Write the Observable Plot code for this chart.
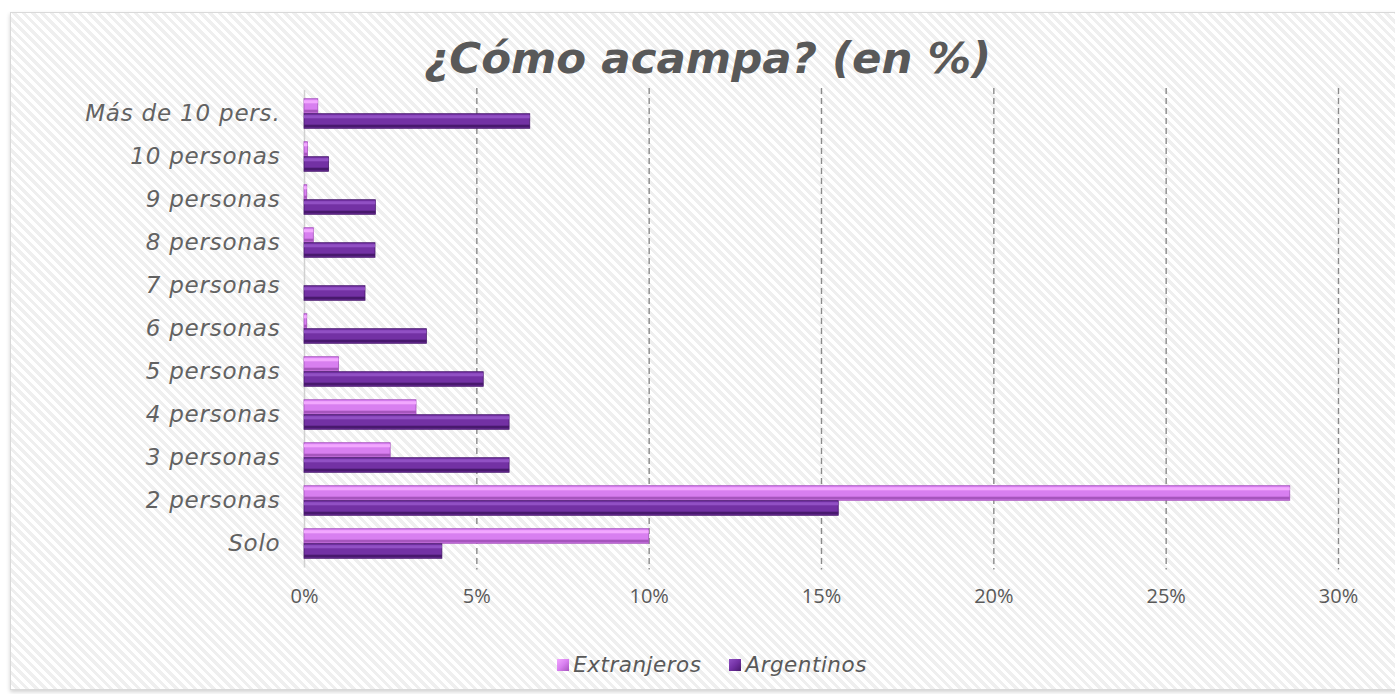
<!DOCTYPE html>
<html>
<head>
<meta charset="utf-8">
<script src="https://cdn.jsdelivr.net/npm/d3@7"></script>
<script src="https://cdn.jsdelivr.net/npm/@observablehq/plot@0.6"></script>
<style>
  html, body { margin: 0; padding: 0; background: #ffffff; width: 1395px; height: 694px; overflow: hidden; }
  #frame {
    position: absolute; left: 10px; top: 12px; width: 1390px; height: 676px;
    border: 1px solid #d9d9d9;
    box-shadow: 0 2px 4px rgba(0,0,0,0.18);
    background: repeating-linear-gradient(45deg, #ffffff 0px, #ffffff 3.4px, #efefef 3.4px, #efefef 6.6px);
  }
  #title {
    position: absolute; left: 0; width: 1415px; top: 30px; text-align: center;
    font-family: "DejaVu Sans", sans-serif; font-weight: 700; font-style: italic;
    font-size: 43.5px; color: #595959; line-height: 56px; margin: 0;
  }
  #chart { position: absolute; left: 0; top: 0; }
  #legend {
    position: absolute; left: 0; width: 1424px; top: 650px; display: flex; justify-content: center; gap: 28px;
    font-family: "DejaVu Sans", sans-serif; font-weight: 300; font-style: italic; font-size: 21.5px; letter-spacing: 0.5px; color: #595959; line-height: 30px;
  }
  .item { display: flex; align-items: center; gap: 4px; }
  .sw { width: 12px; height: 12px; display: inline-block; }
</style>
</head>
<body>
<div id="frame"></div>
<h1 id="title">¿Cómo acampa? (en %)</h1>
<div id="chart"></div>
<div id="legend"></div>
<script>
// Data (percent)
const categories = ["Más de 10 pers.", "10 personas", "9 personas", "8 personas", "7 personas", "6 personas", "5 personas", "4 personas", "3 personas", "2 personas", "Solo"];
const extranjeros = [0.4, 0.1, 0.08, 0.27, 0, 0.08, 1.0, 3.25, 2.5, 28.6, 10.0];
const argentinos = [6.55, 0.71, 2.07, 2.06, 1.77, 3.55, 5.2, 5.95, 5.95, 15.5, 4.0];
const seriesNames = ["Extranjeros", "Argentinos"];
const seriesColors = ["#d87ff0", "#7331a4"];
const seriesLight = ["#f2a8ff", "#9150c4"];
const seriesDark = ["#a655bd", "#48196d"];
const xTicks = [0, 5, 10, 15, 20, 25, 30];

const rows = [];
categories.forEach((c, i) => {
  rows.push({cat: c, series: seriesNames[0], value: extranjeros[i]});
  rows.push({cat: c, series: seriesNames[1], value: argentinos[i]});
});
const ext = rows.filter(d => d.series === "Extranjeros");
const arg = rows.filter(d => d.series === "Argentinos");

const font = '"Open Sans", sans-serif';
const labelFont = '"DejaVu Sans", sans-serif';
const W = 1395, H = 694;
// bar layout within band (band ~43.4px): bars 15px each, centered
const outer = 6.7, bar = 15;

function bevel(data, top, i) {
  const bottom = 43.4 - top - bar;
  return [
    Plot.barX(data, {x: "value", y: "cat", insetTop: top, insetBottom: bottom, fill: seriesColors[i], stroke: seriesDark[i], strokeWidth: 0.8}),
    Plot.barX(data, {x: "value", y: "cat", insetTop: top + 1.5, insetBottom: bottom + bar - 5, fill: seriesLight[i]}),
    Plot.barX(data, {x: "value", y: "cat", insetTop: top + bar - 4, insetBottom: bottom + 0.8, fill: seriesDark[i]})
  ];
}

const chart = Plot.plot({
  width: W, height: H,
  marginLeft: 304, marginRight: W - 1338, marginTop: 90, marginBottom: H - 567.5,
  style: {background: "transparent", fontFamily: font, overflow: "visible"},
  x: {domain: [0, 30], ticks: xTicks},
  y: {domain: categories, padding: 0},
  marks: [
    Plot.ruleX(xTicks.filter(d => d > 0), {stroke: "#8a8a8a", strokeDasharray: "6,4", strokeWidth: 1.4, insetTop: -2, insetBottom: -2}),
    Plot.ruleX([0], {stroke: "#d0d0d0", strokeWidth: 1.5}),
    ...bevel(ext, outer, 0),
    ...bevel(arg, outer + bar, 1),
    Plot.axisX({ticks: xTicks, tickSize: 0, tickPadding: 21, tickFormat: d => d + "%", fontSize: 20, fill: "#595959", label: null}),
    Plot.axisY({tickSize: 0, tickPadding: 24, fontSize: 23, fontStyle: "italic", fontWeight: 200, fontFamily: labelFont, fill: "#626262", label: null})
  ]
});
document.getElementById("chart").appendChild(chart);
chart.querySelectorAll("[aria-label='y-axis tick label']").forEach(el => el.style.letterSpacing = "0.8px");

const legend = document.getElementById("legend");
seriesNames.forEach((s, i) => {
  const it = document.createElement("div");
  it.className = "item";
  const sw = document.createElement("span");
  sw.className = "sw";
  sw.style.background = `linear-gradient(135deg, ${seriesLight[i]} 0%, ${seriesColors[i]} 50%, ${seriesDark[i]} 100%)`;
  const t = document.createElement("span");
  t.textContent = s;
  it.appendChild(sw); it.appendChild(t);
  legend.appendChild(it);
});
</script>
</body>
</html>
